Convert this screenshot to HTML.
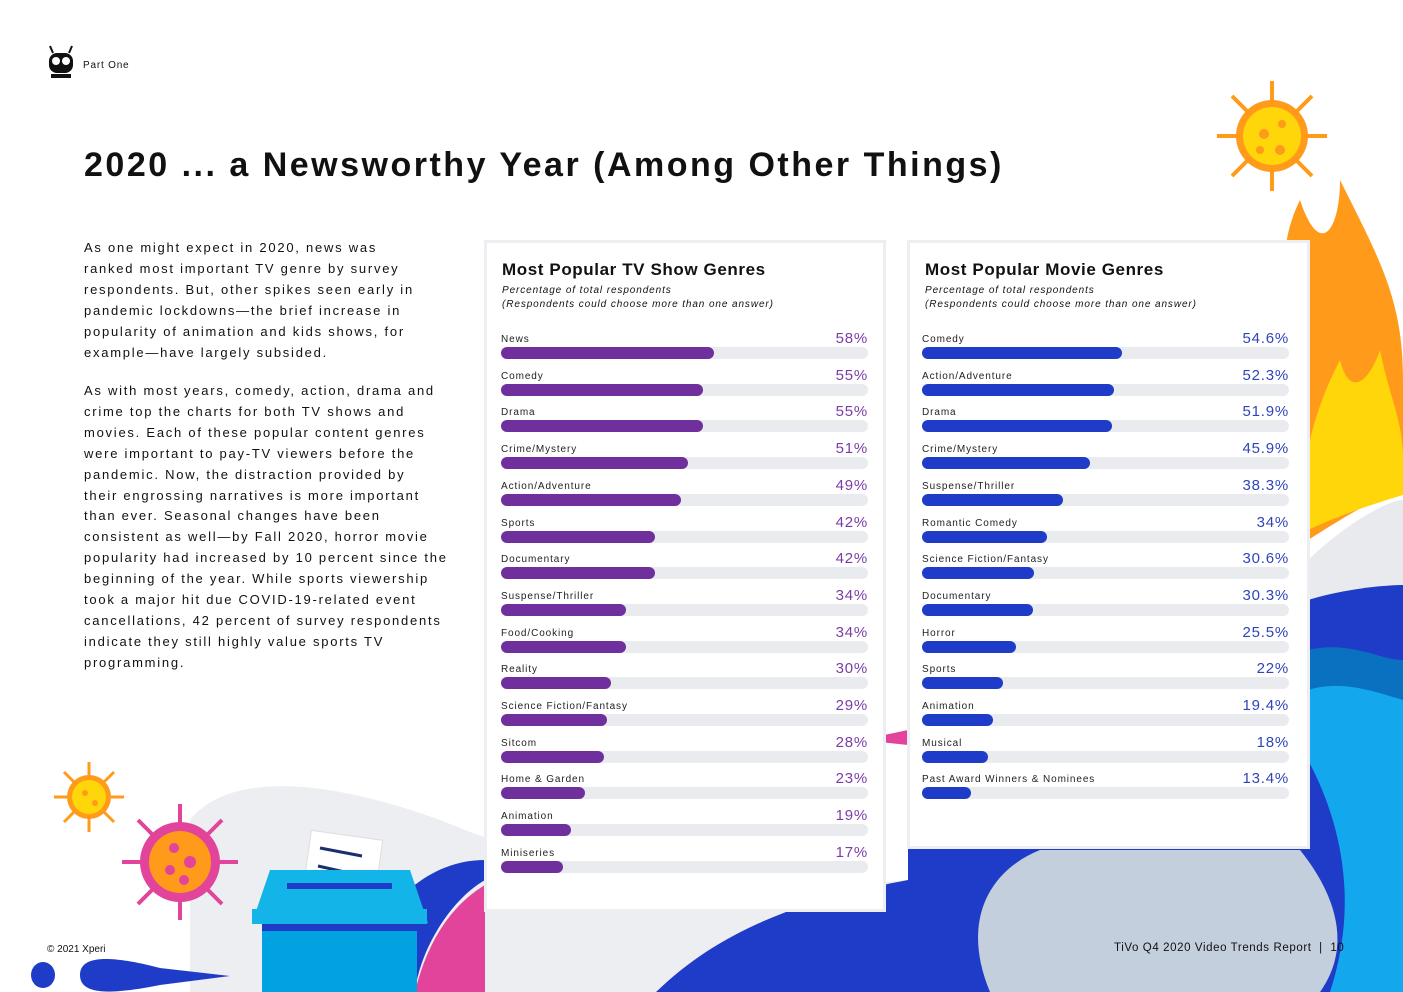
<!DOCTYPE html>
<html><head><meta charset="utf-8">
<style>
body{margin:0;width:1403px;height:992px;position:relative;overflow:hidden;background:#fff;font-family:"Liberation Sans",sans-serif;color:#111}
.abs{position:absolute}
.panel{position:absolute;background:#fff;border:3px solid #eceef1;box-sizing:border-box}
.ptitle{position:absolute;left:15px;top:17px;font-size:17px;font-weight:bold;letter-spacing:0.6px}
.psub{position:absolute;left:15px;top:41px;font-size:10px;font-style:italic;line-height:14px;letter-spacing:0.9px}
.lbl{position:absolute;font-size:10px;letter-spacing:0.9px;color:#222}
.val{position:absolute;font-size:15px;letter-spacing:0.8px;text-align:right;width:80px}
.track{position:absolute;height:12px;border-radius:6px;background:#eaebef}
.bar{position:absolute;height:12px;border-radius:6px}
.body{position:absolute;left:84px;font-size:13px;line-height:20.9px;letter-spacing:1.75px;white-space:nowrap}
</style></head><body>
<svg class="abs" style="left:0;top:0" width="1403" height="992">
  <path d="M190 820 C230 770 330 780 440 820 C560 870 700 900 908 880 L908 992 L190 992 Z" fill="#eceef1"/>
  <path d="M340 992 C380 900 430 860 485 860 L485 880 C450 900 420 950 415 992 Z" fill="#1f3cc8"/>
  <path d="M415 992 C430 930 460 900 485 885 L485 992 Z" fill="#e2449b"/>
  <path d="M656 992 C720 930 800 900 908 880 L908 992 Z" fill="#1f3cc8"/>
  <path d="M860 740 L908 730 L908 745 Z" fill="#e2449b"/>
  <path d="M1308 560 C1350 520 1390 500 1403 500 L1403 992 L1308 992 Z" fill="#e8eaee"/>
  <path d="M1308 600 C1340 590 1380 585 1403 585 L1403 992 L1308 992 Z" fill="#1f3cc8"/>
  <path d="M1308 650 C1350 640 1380 660 1403 660 L1403 992 L1308 992 Z" fill="#0a70c0"/>
  <path d="M1308 690 C1340 680 1370 690 1403 700 L1403 992 L1308 992 Z" fill="#13a8ee"/>
  <path d="M908 992 L908 848 L1308 848 L1308 760 C1340 820 1360 900 1330 992 Z" fill="#1f3cc8"/>
  <path d="M990 992 C960 920 990 870 1040 850 L1300 850 C1340 900 1350 950 1320 992 Z" fill="#c3cfdc"/>
  <path d="M1308 540 L1300 400 C1290 320 1270 260 1300 200 C1320 260 1340 230 1340 180 C1380 260 1403 300 1403 380 L1403 490 C1370 500 1340 520 1308 540 Z" fill="#ff9a1a"/>
  <path d="M1308 530 L1310 440 C1320 400 1330 380 1340 360 C1350 400 1370 380 1380 350 C1390 400 1403 420 1403 460 L1403 495 C1370 505 1340 515 1308 530 Z" fill="#ffd60a"/>
  <g transform="translate(1272,136)"><g stroke="#ff9a1a" stroke-width="4">
   <line x1="0" y1="-55" x2="0" y2="55"/><line x1="-55" y1="0" x2="55" y2="0"/><line x1="-40" y1="-40" x2="40" y2="40"/><line x1="-40" y1="40" x2="40" y2="-40"/></g>
   <circle r="36" fill="#ff9a1a"/><circle r="29" fill="#ffd60a"/><circle cx="-8" cy="-2" r="5" fill="#ff9a1a"/><circle cx="10" cy="-12" r="4" fill="#ff9a1a"/><circle cx="8" cy="14" r="5" fill="#ff9a1a"/><circle cx="-12" cy="14" r="4" fill="#ff9a1a"/></g>
  <g transform="translate(89,797)"><g stroke="#ff9a1a" stroke-width="3">
   <line x1="0" y1="-35" x2="0" y2="35"/><line x1="-35" y1="0" x2="35" y2="0"/><line x1="-25" y1="-25" x2="25" y2="25"/><line x1="-25" y1="25" x2="25" y2="-25"/></g>
   <circle r="22" fill="#ff9a1a"/><circle r="17" fill="#ffd60a"/><circle cx="-4" cy="-4" r="3" fill="#ff9a1a"/><circle cx="6" cy="6" r="3" fill="#ff9a1a"/></g>
  <g transform="translate(180,862)"><g stroke="#e2449b" stroke-width="4">
   <line x1="0" y1="-58" x2="0" y2="58"/><line x1="-58" y1="0" x2="58" y2="0"/><line x1="-42" y1="-42" x2="42" y2="42"/><line x1="-42" y1="42" x2="42" y2="-42"/></g>
   <circle r="40" fill="#e2449b"/><circle r="31" fill="#ff9a1a"/><circle cx="-6" cy="-14" r="5" fill="#e2449b"/><circle cx="10" cy="0" r="6" fill="#e2449b"/><circle cx="-10" cy="8" r="5" fill="#e2449b"/><circle cx="4" cy="18" r="5" fill="#e2449b"/></g>
  <rect x="307" y="835" width="72" height="58" fill="#fff" stroke="#ddd" transform="rotate(8 343 864)"/>
  <line x1="320" y1="848" x2="362" y2="856" stroke="#1a2f6b" stroke-width="3"/>
  <line x1="318" y1="866" x2="358" y2="875" stroke="#1a2f6b" stroke-width="3"/>
  <path d="M252 923 L270 870 L410 870 L428 923 Z" fill="#13b4e8"/>
  <rect x="287" y="883" width="105" height="6" fill="#1f3cc8"/>
  <rect x="252" y="909" width="175" height="15" fill="#13b4e8"/>
  <rect x="262" y="924" width="155" height="68" fill="#00a3df"/>
  <rect x="262" y="924" width="155" height="7" fill="#1f3cc8"/>
  <ellipse cx="43" cy="975" rx="12" ry="13" fill="#1f3cc8"/>
  <path d="M80 975 C80 955 110 955 160 968 L230 976 L160 985 C110 995 80 995 80 975 Z" fill="#1f3cc8"/>
  <g transform="translate(61,63)"><rect x="-12" y="-10" width="24" height="20" rx="8" fill="#111"/><circle cx="-5" cy="-2" r="4" fill="#fff"/><circle cx="5" cy="-2" r="4" fill="#fff"/><line x1="-8" y1="-10" x2="-11" y2="-17" stroke="#111" stroke-width="2"/><line x1="8" y1="-10" x2="11" y2="-17" stroke="#111" stroke-width="2"/><rect x="-10" y="11" width="20" height="4" fill="#111"/></g>
</svg>
<div class="abs" style="left:83px;top:60px;font-size:10px;letter-spacing:0.8px">Part One</div>
<div class="abs" style="left:84px;top:146px;font-size:34px;font-weight:bold;letter-spacing:2.5px">2020 ... a Newsworthy Year (Among Other Things)</div>
<div class="body" style="top:238px">As one might expect in 2020, news was<br>ranked most important TV genre by survey<br>respondents. But, other spikes seen early in<br>pandemic lockdowns—the brief increase in<br>popularity of animation and kids shows, for<br>example—have largely subsided.</div>
<div class="body" style="top:381px">As with most years, comedy, action, drama and<br>crime top the charts for both TV shows and<br>movies. Each of these popular content genres<br>were important to pay-TV viewers before the<br>pandemic. Now, the distraction provided by<br>their engrossing narratives is more important<br>than ever. Seasonal changes have been<br>consistent as well—by Fall 2020, horror movie<br>popularity had increased by 10 percent since the<br>beginning of the year. While sports viewership<br>took a major hit due COVID-19-related event<br>cancellations, 42 percent of survey respondents<br>indicate they still highly value sports TV<br>programming.</div>

<div class="panel" id="tvp" style="left:484px;top:240px;width:402px;height:672px">
 <div class="ptitle">Most Popular TV Show Genres</div>
 <div class="psub">Percentage of total respondents<br>(Respondents could choose more than one answer)</div>
</div>
<div class="panel" id="mvp" style="left:907px;top:240px;width:403px;height:609px">
 <div class="ptitle">Most Popular Movie Genres</div>
 <div class="psub">Percentage of total respondents<br>(Respondents could choose more than one answer)</div>
</div>
<div class="abs" style="left:47px;top:944px;font-size:10px">© 2021 Xperi</div>
<div class="abs" style="left:1114px;top:942px;font-size:11.5px;letter-spacing:0.6px">TiVo Q4 2020 Video Trends Report &nbsp;|&nbsp; 10</div>
<script>
const tvCategories=["News","Comedy","Drama","Crime/Mystery","Action/Adventure","Sports","Documentary","Suspense/Thriller","Food/Cooking","Reality","Science Fiction/Fantasy","Sitcom","Home & Garden","Animation","Miniseries"];
const tvValues=[58,55,55,51,49,42,42,34,34,30,29,28,23,19,17];
const tvLabels=["58%","55%","55%","51%","49%","42%","42%","34%","34%","30%","29%","28%","23%","19%","17%"];
const movieCategories=["Comedy","Action/Adventure","Drama","Crime/Mystery","Suspense/Thriller","Romantic Comedy","Science Fiction/Fantasy","Documentary","Horror","Sports","Animation","Musical","Past Award Winners & Nominees"];
const movieValues=[54.6,52.3,51.9,45.9,38.3,34,30.6,30.3,25.5,22,19.4,18,13.4];
const movieLabels=["54.6%","52.3%","51.9%","45.9%","38.3%","34%","30.6%","30.3%","25.5%","22%","19.4%","18%","13.4%"];
function draw(panelId,cats,vals,labs,color,valColor,prefix,x0){
  const p=document.getElementById(panelId);
  const trackW=367,rowY0=104,step=36.7;
  const xs=v=>v/100*trackW;
  cats.forEach((c,i)=>{
    const y=rowY0+i*step;
    const l=document.createElement('div');l.className='lbl';l.textContent=c;
    l.style.left=x0+'px';l.style.top=(y-13)+'px';
    
    
    p.appendChild(l);
    const v=document.createElement('div');v.className='val';v.textContent=labs[i];v.style.color=valColor;
    v.style.left=(x0+trackW-80)+'px';v.style.top=(y-17)+'px';
    
    
    p.appendChild(v);
    const t=document.createElement('div');t.className='track';t.style.left=x0+'px';t.style.top=y+'px';t.style.width=trackW+'px';
    
    
    p.appendChild(t);
    const b=document.createElement('div');b.className='bar';b.style.left=x0+'px';b.style.top=y+'px';b.style.width=xs(vals[i])+'px';b.style.background=color;
    
    
    p.appendChild(b);
  });
}
draw('tvp',tvCategories,tvValues,tvLabels,'#6f2f9c','#7a3da6','tv',14);
draw('mvp',movieCategories,movieValues,movieLabels,'#1f3cc8','#2f45b8','movie',12);
</script>
</body></html>
